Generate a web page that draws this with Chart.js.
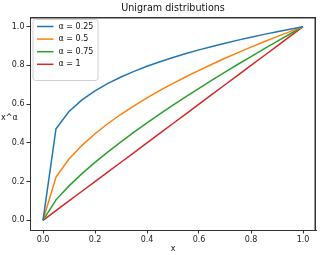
<!DOCTYPE html>
<html>
<head>
<meta charset="utf-8">
<script src="https://cdn.jsdelivr.net/npm/chart.js@4/dist/chart.umd.min.js"></script>
<style>
html,body{margin:0;padding:0;background:#fff;}
#wrap{width:320px;height:255px;position:relative;}
</style>
</head>
<body>
<div id="wrap"><canvas id="c" width="320" height="255"></canvas></div>
<script>
const xValues = [0,0.05,0.1,0.15,0.2,0.25,0.3,0.35,0.4,0.45,0.5,0.55,0.6,0.65,0.7,0.75,0.8,0.85,0.9,0.95,1];
const alpha025 = [0,0.4729,0.5623,0.6223,0.6687,0.7071,0.7401,0.7692,0.7953,0.8190,0.8409,0.8612,0.8801,0.8979,0.9147,0.9306,0.9457,0.9602,0.9740,0.9873,1];
const alpha05  = [0,0.2236,0.3162,0.3873,0.4472,0.5,0.5477,0.5916,0.6325,0.6708,0.7071,0.7416,0.7746,0.8062,0.8367,0.8660,0.8944,0.9220,0.9487,0.9747,1];
const alpha075 = [0,0.1057,0.1778,0.2410,0.2991,0.3536,0.4054,0.4551,0.5030,0.5494,0.5946,0.6387,0.6817,0.7239,0.7653,0.8059,0.8458,0.8853,0.9240,0.9623,1];
const alpha1   = [0,0.05,0.1,0.15,0.2,0.25,0.3,0.35,0.4,0.45,0.5,0.55,0.6,0.65,0.7,0.75,0.8,0.85,0.9,0.95,1];
const seriesLabels = ['α = 0.25','α = 0.5','α = 0.75','α = 1'];
const xTicks = [0,0.2,0.4,0.6,0.8,1.0];
const yTicks = [0,0.2,0.4,0.6,0.8,1.0];
const titleText = 'Unigram distributions';
const xLabel = 'x';
const yLabel = 'x^α';

const colors = ['#1f77b4','#ff7f0e','#2ca02c','#d62728'];
const FONT = '"DejaVu Sans", sans-serif';
const allSeries = [alpha025, alpha05, alpha075, alpha1];

const datasets = allSeries.map((ys,i)=>({
  label: seriesLabels[i],
  data: xValues.map((x,j)=>({x:x,y:ys[j]})),
  borderColor: colors[i],
  backgroundColor: colors[i],
  borderWidth: 1.5,
  pointRadius: 0,
  tension: 0,
  fill: false
}));

const decor = {
  id:'decor',
  afterDraw(chart){
    const ctx = chart.ctx, a = chart.chartArea;
    ctx.save();
    // top and right spines
    ctx.fillStyle = '#333';
    ctx.fillRect(Math.round(a.left), Math.round(a.top), Math.round(a.right - a.left), 1.5);
    ctx.fillRect(Math.round(a.right) - 1.5, Math.round(a.top), 1.5, Math.round(a.bottom - a.top) + 1);
    // title
    ctx.fillStyle = '#111';
    ctx.font = '9.6px ' + FONT;
    ctx.textAlign = 'center';
    ctx.textBaseline = 'middle';
    ctx.fillText(titleText, (a.left+a.right)/2, 8);
    // x label
    ctx.font = '8px ' + FONT;
    ctx.fillText(xLabel, (a.left+a.right)/2, 249);
    // y label
    ctx.textAlign = 'left';
    ctx.fillText(yLabel, 1, 118);
    // legend
    const lx = 33, ly = 19.5, lw = 65, lh = 61, r = 2.5;
    ctx.beginPath();
    ctx.moveTo(lx+r,ly);
    ctx.lineTo(lx+lw-r,ly); ctx.quadraticCurveTo(lx+lw,ly,lx+lw,ly+r);
    ctx.lineTo(lx+lw,ly+lh-r); ctx.quadraticCurveTo(lx+lw,ly+lh,lx+lw-r,ly+lh);
    ctx.lineTo(lx+r,ly+lh); ctx.quadraticCurveTo(lx,ly+lh,lx,ly+lh-r);
    ctx.lineTo(lx,ly+r); ctx.quadraticCurveTo(lx,ly,lx+r,ly);
    ctx.closePath();
    ctx.fillStyle = 'rgba(255,255,255,0.8)';
    ctx.fill();
    ctx.strokeStyle = '#d0d0d0';
    ctx.lineWidth = 1;
    ctx.stroke();
    ctx.font = '8px ' + FONT;
    ctx.textBaseline = 'middle';
    chart.data.datasets.forEach((ds,i)=>{
      const y = 26.5 + i*12.6;
      ctx.strokeStyle = ds.borderColor;
      ctx.lineWidth = 1.5;
      ctx.beginPath(); ctx.moveTo(37,y); ctx.lineTo(53.5,y); ctx.stroke();
      ctx.fillStyle = '#111';
      ctx.fillText(ds.label, 58.5, y);
    });
    ctx.restore();
  }
};

new Chart(document.getElementById('c'), {
  type:'line',
  data:{datasets},
  options:{
    responsive:false,
    animation:false,
    devicePixelRatio:1,
    layout:{padding:{left:0,right:4,top:17,bottom:0}},
    plugins:{legend:{display:false},title:{display:false},tooltip:{enabled:false}},
    scales:{
      x:{
        type:'linear', position:'bottom', min:-0.05, max:1.05,
        afterBuildTicks(s){ s.ticks = xTicks.map(v=>({value:v})); },
        afterFit(s){ s.height = 25; },
        ticks:{callback:v=>Number(v).toFixed(1), color:'#222', font:{family:FONT,size:8}, padding:2, maxRotation:0, autoSkip:false},
        grid:{drawOnChartArea:false, drawTicks:true, tickLength:3.5, color:'#333', tickColor:'#333'},
        border:{display:true, color:'#333'}
      },
      y:{
        type:'linear', position:'left', min:-0.05, max:1.05,
        afterBuildTicks(s){ s.ticks = yTicks.map(v=>({value:v})); },
        afterFit(s){ s.width = 30; },
        ticks:{callback:v=>Number(v).toFixed(1), color:'#222', font:{family:FONT,size:8}, padding:2, autoSkip:false},
        grid:{drawOnChartArea:false, drawTicks:true, tickLength:3.5, color:'#333', tickColor:'#333'},
        border:{display:true, color:'#333'}
      }
    }
  },
  plugins:[decor]
});
</script>
</body>
</html>
